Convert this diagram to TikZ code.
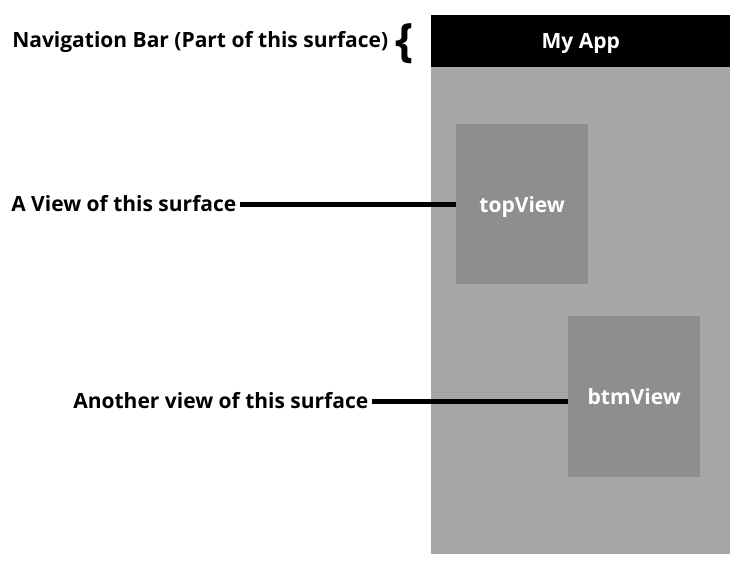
\documentclass[tikz,border=0pt]{standalone}
\usepackage{fontspec}
\setmainfont{Open Sans}
\begin{document}
\begin{tikzpicture}[x=1pt,y=-1pt,
  viewbox/.style={fill=viewgray,draw=none,minimum width=132pt,minimum height=160pt,inner sep=0pt,text depth=0pt,text=white,font=\bfseries\fontsize{21}{24}\selectfont},
  lbl/.style={font=\bfseries\fontsize{21}{24}\selectfont,inner xsep=3.5pt,inner ysep=0pt},
  conn/.style={line width=5pt}]
\definecolor{surfgray}{HTML}{A6A6A6}
\definecolor{viewgray}{HTML}{8E8E8E}
\useasboundingbox (0,0) rectangle (748,574);
\fill[surfgray] (431,67) rectangle (730,554);
\node[fill=black,minimum width=299pt,minimum height=52pt,inner sep=0pt,text depth=0pt,text=white,anchor=north west,font=\bfseries\fontsize{21}{24}\selectfont] (bar) at (431,15) {My App};
\node[viewbox,anchor=north west] (top) at (456,124) {topView};
\node[viewbox,anchor=north west,minimum height=161pt] (btm) at (568,316) {btmView};
\node[lbl,anchor=east] (navlbl) at (392,42) {Navigation Bar (Part of this surface)};
\node[font=\bfseries\fontsize{46}{50}\selectfont,inner sep=0pt] (brace) at (405,43.5) {\{};
\node[lbl,anchor=east] (toplbl) at (240,204) {A View of this surface};
\node[lbl,anchor=east] (btmlbl) at (372,401) {Another view of this surface};
\draw[conn] (toplbl.east) -- (toplbl.east -| top.west);
\draw[conn] (btmlbl.east) -- (btmlbl.east -| btm.west);
\end{tikzpicture}
\end{document}
